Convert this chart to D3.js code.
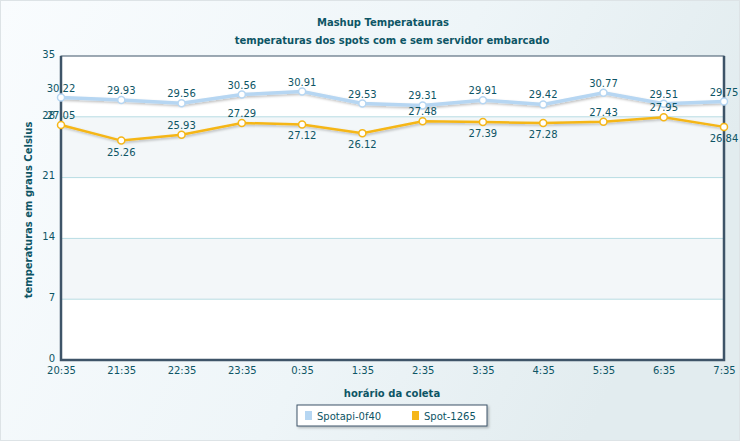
<!DOCTYPE html>
<html>
<head>
<meta charset="utf-8">
<script src="https://cdn.jsdelivr.net/npm/d3@7"></script>
<style>
  body { margin: 0; background: #fff; }
  text { font-family: "DejaVu Sans", Verdana, sans-serif; }
</style>
</head>
<body>
<div id="chart"></div>
<script>
// dados
const horarios = ["20:35","21:35","22:35","23:35","0:35","1:35","2:35","3:35","4:35","5:35","6:35","7:35"];
const spotapi = [30.22, 29.93, 29.56, 30.56, 30.91, 29.53, 29.31, 29.91, 29.42, 30.77, 29.51, 29.75];
const spot1265 = [27.05, 25.26, 25.93, 27.29, 27.12, 26.12, 27.48, 27.39, 27.28, 27.43, 27.95, 26.84];
const yTicks = [0, 7, 14, 21, 28, 35];
const seriesNames = ["Spotapi-0f40", "Spot-1265"];

const width = 740, height = 441;
const margin = {top: 56, right: 16, bottom: 81, left: 61};
const txt = "#0d5565";

const svg = d3.select("#chart").append("svg")
  .attr("width", width).attr("height", height);

const defs = svg.append("defs");
const grad = defs.append("linearGradient").attr("id", "bg").attr("x1", 0).attr("x2", 1).attr("y1", 0).attr("y2", 0.3);
grad.append("stop").attr("offset", "0%").attr("stop-color", "#f9fcfe");
grad.append("stop").attr("offset", "60%").attr("stop-color", "#eef5f8");
grad.append("stop").attr("offset", "100%").attr("stop-color", "#e2ecef");
const sh = defs.append("filter").attr("id", "shadow").attr("x", "-10%").attr("y", "-50%").attr("width", "130%").attr("height", "200%");
sh.append("feDropShadow").attr("dx", 1.5).attr("dy", 1.5).attr("stdDeviation", 1).attr("flood-color", "#000").attr("flood-opacity", 0.25);

svg.append("rect").attr("x", 0.5).attr("y", 0.5).attr("width", width - 1).attr("height", height - 1)
  .attr("fill", "url(#bg)").attr("stroke", "#dde3e6");

const x = d3.scalePoint().domain(horarios).range([margin.left, width - margin.right]);
const y = d3.scaleLinear().domain([0, 35]).range([height - margin.bottom, margin.top]);

// faixas alternadas
const plot = svg.append("g");
plot.append("rect").attr("x", margin.left).attr("y", margin.top)
  .attr("width", width - margin.right - margin.left).attr("height", y(0) - y(35)).attr("fill", "#fff");
d3.pairs(yTicks).forEach((p, i) => {
  if (i % 2 === 1) {
    plot.append("rect").attr("x", margin.left).attr("y", y(p[1]))
      .attr("width", width - margin.right - margin.left).attr("height", y(p[0]) - y(p[1]))
      .attr("fill", "#f3f7f9");
  }
});

// grade
plot.selectAll("line.grid").data(yTicks.slice(1, -1)).enter().append("line")
  .attr("x1", margin.left).attr("x2", width - margin.right)
  .attr("y1", d => y(d)).attr("y2", d => y(d))
  .attr("stroke", "#b7dce3").attr("stroke-width", 1);

// eixo y
svg.append("g")
  .attr("transform", `translate(${margin.left},-2)`)
  .call(d3.axisLeft(y).tickValues(yTicks).tickSize(0).tickPadding(6))
  .call(g => g.select(".domain").remove())
  .selectAll("text").attr("fill", txt).attr("font-size", "10px")
  .attr("font-family", "DejaVu Sans, Verdana, sans-serif");

// eixo x
svg.append("g")
  .attr("transform", `translate(0,${y(0)})`)
  .call(d3.axisBottom(x).tickSize(0).tickPadding(7))
  .call(g => g.select(".domain").remove())
  .selectAll("text").attr("fill", txt).attr("font-size", "10px")
  .attr("font-family", "DejaVu Sans, Verdana, sans-serif");

// moldura
svg.append("rect").attr("x", margin.left).attr("y", margin.top)
  .attr("width", width - margin.right - margin.left).attr("height", y(0) - y(35))
  .attr("fill", "none").attr("stroke", "#3e5468").attr("stroke-width", 1);
svg.append("path")
  .attr("d", `M${margin.left},${margin.top}V${y(0)}H${width - margin.right}V${margin.top}`)
  .attr("fill", "none").attr("stroke", "#3e5468").attr("stroke-width", 2.5);

// series
const series = [
  {name: seriesNames[0], values: spotapi, color: "#b6d6f2", width: 3.5, below: false},
  {name: seriesNames[1], values: spot1265, color: "#f5b619", width: 2.5, below: true}
];
const line = d3.line().x((d, i) => x(horarios[i])).y(d => y(d));

series.forEach(s => {
  const g = svg.append("g");
  g.append("path").datum(s.values).attr("d", line)
    .attr("fill", "none").attr("stroke", s.color).attr("stroke-width", s.width)
    .attr("filter", "url(#shadow)");
  g.selectAll("circle").data(s.values).enter().append("circle")
    .attr("cx", (d, i) => x(horarios[i])).attr("cy", d => y(d)).attr("r", 3.5)
    .attr("fill", "#fff").attr("stroke", s.color).attr("stroke-width", 1.5);
  g.selectAll("text").data(s.values).enter().append("text")
    .attr("x", (d, i) => x(horarios[i]))
    .attr("y", (d, i) => (s.below && i > 0 && d < s.values[i - 1]) ? y(d) + 15 : y(d) - 6)
    .attr("text-anchor", "middle").attr("font-size", "10px").attr("fill", txt)
    .text(d => d.toFixed(2));
});

// titulos
const boldFont = "'DejaVu Sans Condensed', 'DejaVu Sans', sans-serif";
svg.append("text").attr("x", 383).attr("y", 26).attr("text-anchor", "middle")
  .attr("font-size", "10px").attr("font-weight", "bold").attr("fill", txt).attr("font-family", boldFont)
  .text("Mashup Temperatauras");
svg.append("text").attr("x", 392).attr("y", 44).attr("text-anchor", "middle")
  .attr("font-size", "10px").attr("font-weight", "bold").attr("fill", txt).attr("font-family", boldFont)
  .text("temperaturas dos spots com e sem servidor embarcado");
svg.append("text").attr("x", 392).attr("y", 397).attr("text-anchor", "middle")
  .attr("font-size", "10px").attr("font-weight", "bold").attr("fill", txt).attr("font-family", boldFont)
  .text("horário da coleta");
svg.append("text").attr("transform", `translate(32,${(y(0) + y(35)) / 2 + 2}) rotate(-90)`)
  .attr("text-anchor", "middle")
  .attr("font-size", "10px").attr("font-weight", "bold").attr("fill", txt).attr("font-family", boldFont)
  .text("temperaturas em graus Celsius");

// legenda
const leg = svg.append("g").attr("transform", "translate(297,405)");
leg.append("rect").attr("width", 190).attr("height", 21).attr("fill", "#fff")
  .attr("stroke", "#3e5468").attr("stroke-width", 1).attr("filter", "url(#shadow)");
const legX = [8, 115];
series.forEach((s, i) => {
  leg.append("rect").attr("x", legX[i]).attr("y", 6).attr("width", 7).attr("height", 9).attr("fill", s.color);
  leg.append("text").attr("x", legX[i] + 12).attr("y", 14.5).attr("font-size", "10px").attr("fill", txt)
    .text(s.name);
});
</script>
</body>
</html>
